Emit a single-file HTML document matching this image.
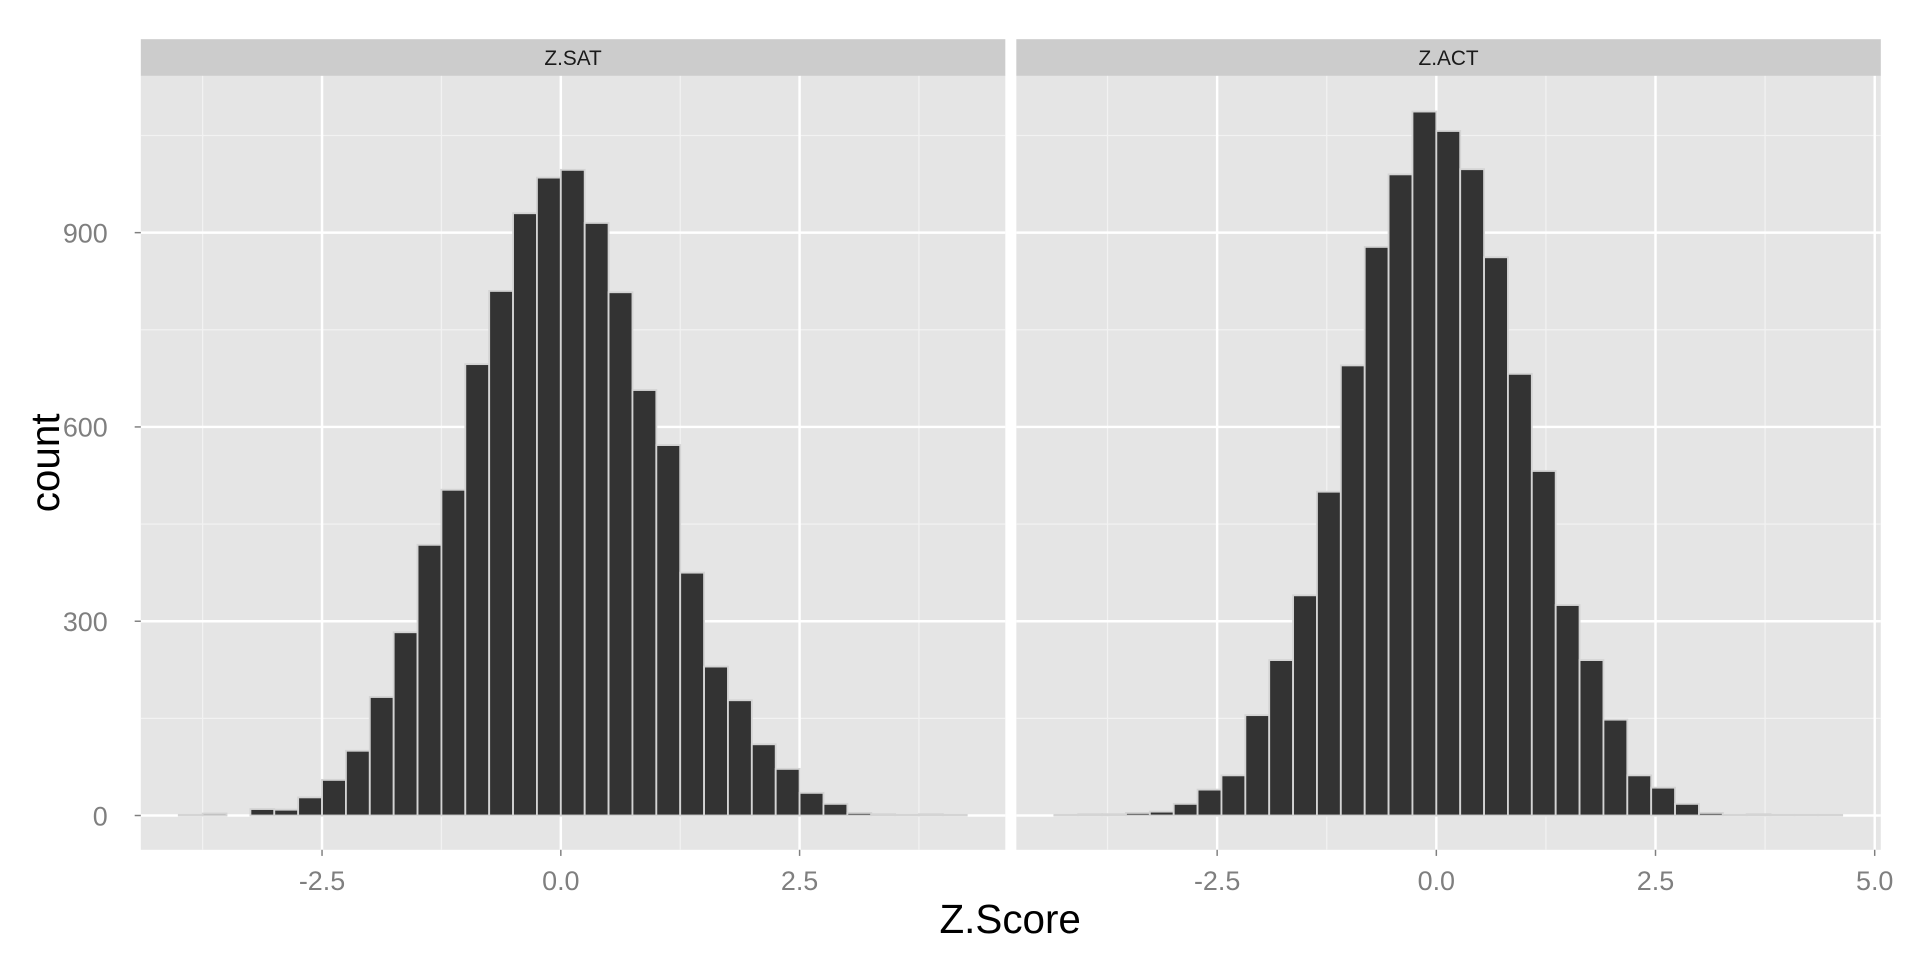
<!DOCTYPE html>
<html><head><meta charset="utf-8"><style>
html,body{margin:0;padding:0;background:#fff;}
svg{display:block;font-family:"Liberation Sans",sans-serif;}
</style></head><body>
<svg id="chart" width="1920" height="960" viewBox="0 0 1568 784" xmlns="http://www.w3.org/2000/svg"></svg>
<script>
const panels = ["Z.SAT", "Z.ACT"];
const satBinStart = -16;
const satCounts = [1,3,0,10,9,28,55,100,183,283,418,503,697,810,930,985,997,915,808,657,572,375,230,178,110,72,35,18,4,2,1,2,1];
const actBinStart = -16;
const actCounts = [1,2,2,4,6,18,40,62,155,240,340,500,695,878,990,1087,1057,998,862,682,532,325,240,148,62,43,18,4,1,2,1,1,1];
const satXTicks = [-2.5, 0.0, 2.5];
const actXTicks = [-2.5, 0.0, 2.5, 5.0];
const yTicks = [0, 300, 600, 900];
const yMinor = [150, 450, 750, 1050];
const satMinorX = [-3.75, -1.25, 1.25, 3.75];
const actMinorX = [-3.75, -1.25, 1.25, 3.75];
const satBinWidth = 0.25;
const actBinWidth = 0.2723;

const svg = document.getElementById('chart');
const NS = 'http://www.w3.org/2000/svg';
function mk(tag, attrs, parent){const e=document.createElementNS(NS,tag);for(const k in attrs)e.setAttribute(k,attrs[k]);(parent||svg).appendChild(e);return e;}
const plotTop = 62, plotBot = 694;
const yScale = v => 666 - v * (476/900);

const cfg = [
  {name:'Z.SAT', x0:115, x1:821, zero:458, ppu:78, counts:satCounts, start:satBinStart, bw:satBinWidth, ticks:satXTicks, minor:satMinorX, key:'sat'},
  {name:'Z.ACT', x0:830, x1:1536, zero:1173, ppu:71.6, counts:actCounts, start:actBinStart, bw:actBinWidth, ticks:actXTicks, minor:actMinorX, key:'act'}
];

cfg.forEach((p, pi) => {
  const xs = v => p.zero + v * p.ppu;
  const g = mk('g', {});
  
  
  const strip = mk('rect', {x:p.x0, y:32, width:p.x1-p.x0, height:30, fill:'#cccccc'}, g);
  
  
  const st = mk('text', {x:(p.x0+p.x1)/2, y:53, 'text-anchor':'middle', 'font-size':17, fill:'#1a1a1a'}, g);
  st.textContent = panels[pi];
  
  
  const bg = mk('rect', {x:p.x0, y:plotTop, width:p.x1-p.x0, height:plotBot-plotTop, fill:'#e5e5e5'}, g);
  
  
  yMinor.forEach(v => { const l = mk('line', {x1:p.x0, x2:p.x1, y1:yScale(v), y2:yScale(v), stroke:'#f2f2f2', 'stroke-width':1}, g);
      });
  p.minor.forEach(v => { const l = mk('line', {x1:xs(v), x2:xs(v), y1:plotTop, y2:plotBot, stroke:'#f2f2f2', 'stroke-width':1}, g);
      });
  yTicks.forEach(v => { const l = mk('line', {x1:p.x0, x2:p.x1, y1:yScale(v), y2:yScale(v), stroke:'#ffffff', 'stroke-width':2}, g);
      });
  p.ticks.forEach(v => { const l = mk('line', {x1:xs(v), x2:xs(v), y1:plotTop, y2:plotBot, stroke:'#ffffff', 'stroke-width':2}, g);
      });
  p.counts.forEach((c, i) => {
    const a = xs((p.start + i) * p.bw), b = xs((p.start + i + 1) * p.bw);
    const r = mk('rect', {x:a, y:yScale(c), width:b-a, height:yScale(0)-yScale(c), fill:'#333333', stroke:'#d4d4d4', 'stroke-width':1.5}, g);
    
    
  });
  p.ticks.forEach(v => {
    const tk = mk('line', {x1:xs(v), x2:xs(v), y1:plotBot, y2:plotBot+5, stroke:'#7f7f7f', 'stroke-width':1.2}, g);
     
    const t = mk('text', {x:xs(v), y:727, 'text-anchor':'middle', 'font-size':22, fill:'#7f7f7f'}, g);
    t.textContent = v.toFixed(1);
     
  });
});
yTicks.forEach(v => {
  const tk = mk('line', {x1:110, x2:115, y1:yScale(v), y2:yScale(v), stroke:'#7f7f7f', 'stroke-width':1.2});
   
  const t = mk('text', {x:88, y:yScale(v)+8, 'text-anchor':'end', 'font-size':22, fill:'#7f7f7f'});
  t.textContent = String(v);
   
});
const xt = mk('text', {x:825, y:762, 'text-anchor':'middle', 'font-size':33, fill:'#000'});
xt.textContent = 'Z.Score';
 
const yt = mk('text', {x:0, y:0, 'text-anchor':'middle', 'font-size':33, fill:'#000', transform:'translate(48,378) rotate(-90)'});
yt.textContent = 'count';
 
</script>
</body></html>
